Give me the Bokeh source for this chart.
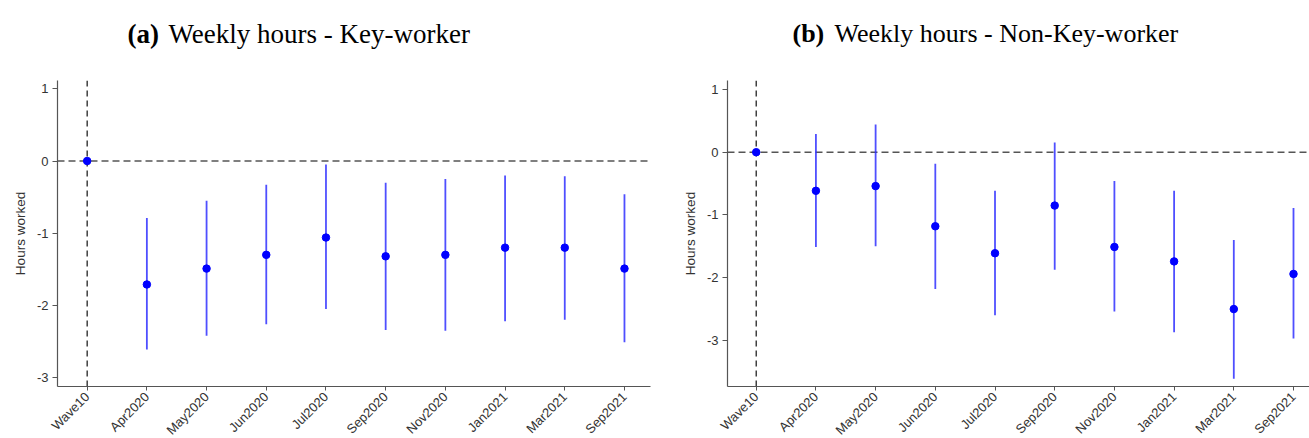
import math
from bokeh.plotting import figure
from bokeh.models import Range1d, FixedTicker, Span, ColumnDataSource
from bokeh.layouts import column, row
from bokeh.core.properties import value
from bokeh.embed import file_html
from bokeh.resources import INLINE

# Survey waves on the x axis
waves = ["Wave10", "Apr2020", "May2020", "Jun2020", "Jul2020",
         "Sep2020", "Nov2020", "Jan2021", "Mar2021", "Sep2021"]

# (a) Key-workers: point estimate and confidence interval
key_est = [0.0, -1.71, -1.49, -1.30, -1.06, -1.32, -1.30, -1.20, -1.20, -1.49]
key_lo = [0.0, -2.61, -2.42, -2.26, -2.05, -2.34, -2.35, -2.22, -2.20, -2.51]
key_hi = [0.0, -0.79, -0.55, -0.33, -0.05, -0.30, -0.25, -0.20, -0.21, -0.46]

# (b) Non-key-workers: point estimate and confidence interval
non_est = [0.0, -0.615, -0.54, -1.18, -1.61, -0.85, -1.51, -1.74, -2.50, -1.94]
non_lo = [0.0, -1.51, -1.50, -2.18, -2.60, -1.875, -2.54, -2.87, -3.61, -2.97]
non_hi = [0.0, 0.29, 0.44, -0.185, -0.615, 0.155, -0.46, -0.615, -1.40, -0.89]

y_ticks = [-3, -2, -1, 0, 1]
# plain hyphen-minus tick labels
y_tick_labels = {t: str(t) for t in y_ticks}

SANS = "Liberation Sans"
SERIF = "Liberation Serif"
AXIS_GREY = "#555555"
TEXT_GREY = "#333333"


def panel(est, lo, hi, x_range, y_range, border_left, frame_w, border_right):
    p = figure(frame_width=frame_w, frame_height=306,
               x_range=Range1d(*x_range), y_range=Range1d(*y_range),
               output_backend="svg", toolbar_location=None,
               min_border_left=border_left, min_border_right=border_right,
               min_border_top=20, min_border_bottom=52)
    p.outline_line_color = None
    p.xgrid.visible = False
    p.ygrid.visible = False
    p.background_fill_color = "white"
    p.border_fill_color = "white"

    # reference lines at the base wave and at zero
    p.add_layout(Span(location=0, dimension="height", line_color="#222222",
                      line_dash="6 4", line_width=1.3, level="underlay"))
    p.add_layout(Span(location=0, dimension="width", line_color="#555555",
                      line_dash="7 4", line_width=1.6, level="underlay"))

    src = ColumnDataSource(dict(x=list(range(len(waves))), est=est, lo=lo, hi=hi))
    p.segment(x0="x", y0="lo", x1="x", y1="hi", source=src,
              line_color="#3030ff", line_alpha=0.85, line_width=1.8)
    p.scatter("x", "est", source=src, size=7.5, color="#0000ff")

    xa = p.xaxis[0]
    xa.ticker = FixedTicker(ticks=list(range(len(waves))))
    xa.major_label_overrides = {i: w for i, w in enumerate(waves)}
    xa.major_label_orientation = math.pi / 4
    xa.major_label_text_font = SANS
    xa.major_label_text_font_size = "13px"
    xa.major_label_text_color = TEXT_GREY
    xa.major_label_standoff = 4
    xa.minor_tick_line_color = None
    xa.major_tick_in = 0
    xa.major_tick_out = 4
    xa.axis_line_color = AXIS_GREY
    xa.major_tick_line_color = AXIS_GREY
    xa.axis_line_width = 1.2

    ya = p.yaxis[0]
    ya.ticker = FixedTicker(ticks=y_ticks)
    ya.major_label_overrides = y_tick_labels
    ya.axis_label = "Hours worked"
    ya.axis_label_text_font = SANS
    ya.axis_label_text_font_style = "normal"
    ya.axis_label_text_font_size = "13.5px"
    ya.axis_label_text_color = TEXT_GREY
    ya.axis_label_standoff = 6
    ya.major_label_text_font = SANS
    ya.major_label_text_font_size = "13px"
    ya.major_label_text_color = TEXT_GREY
    ya.major_label_standoff = 4
    ya.minor_tick_line_color = None
    ya.major_tick_in = 0
    ya.major_tick_out = 5
    ya.axis_line_color = AXIS_GREY
    ya.major_tick_line_color = AXIS_GREY
    ya.axis_line_width = 1.2
    return p


p_key = panel(key_est, key_lo, key_hi, (-0.497, 9.436), (-3.123, 1.115), 57, 593, 5)
p_non = panel(non_est, non_lo, non_hi, (-0.481, 9.268), (-3.734, 1.143), 72, 582, 0)

# Panel headings with a bold letter and a regular description
head = figure(width=1309, height=60, x_range=Range1d(0, 1309), y_range=Range1d(60, 0),
              output_backend="svg", toolbar_location=None,
              min_border=0, outline_line_color=None)
head.axis.visible = False
head.grid.visible = False
head.text(x=[127], y=[33], text=["(a)"],
          text_font=value(SERIF), text_font_size="27px", text_font_style="bold",
          text_color="black", text_baseline="alphabetic", text_align="left")
head.text(x=[168], y=[33], text=["Weekly hours - Key-worker"],
          text_font=value(SERIF), text_font_size="27px", text_font_style="normal",
          text_color="black", text_baseline="alphabetic", text_align="left")
head.text(x=[792], y=[33], text=["(b)"],
          text_font=value(SERIF), text_font_size="26px", text_font_style="bold",
          text_color="black", text_baseline="alphabetic", text_align="left")
head.text(x=[834], y=[33], text=["Weekly hours - Non-Key-worker"],
          text_font=value(SERIF), text_font_size="26px", text_font_style="normal",
          text_color="black", text_baseline="alphabetic", text_align="left")

layout = column(head, row(p_key, p_non, spacing=0), spacing=0)
open("out.html", "w").write(file_html(layout, INLINE))
